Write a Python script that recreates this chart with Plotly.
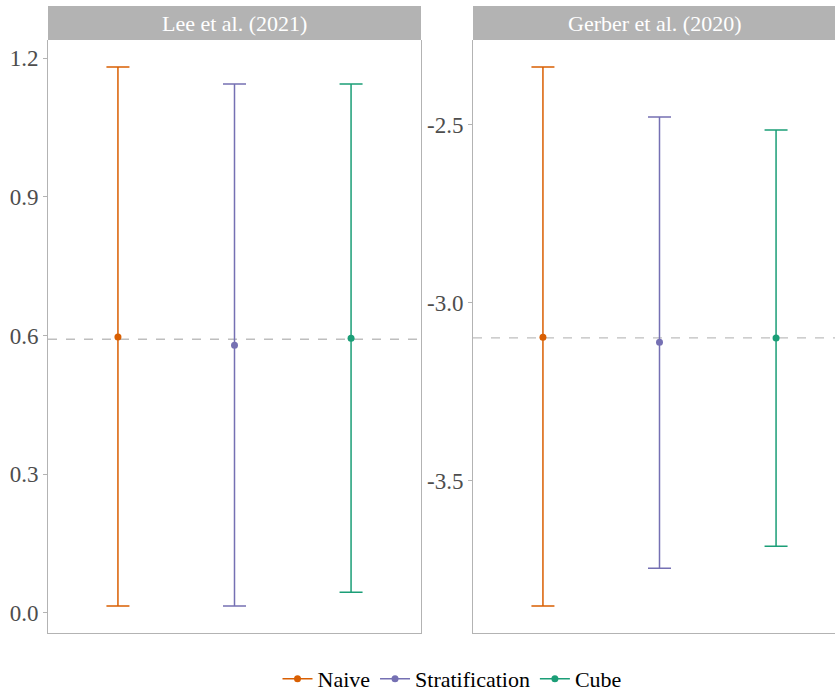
import plotly.graph_objects as go

# ---- data ----
studies = ["Lee et al. (2021)", "Gerber et al. (2020)"]
methods = ["Naive", "Stratification", "Cube"]
colors = ["#D95F02", "#7570B3", "#1B9E77"]

est_lee = [0.597, 0.579, 0.594]
lo_lee = [0.015, 0.015, 0.045]
hi_lee = [1.181, 1.144, 1.144]
ref_lee = 0.592

est_gerber = [-3.097, -3.111, -3.099]
lo_gerber = [-3.853, -3.747, -3.685]
hi_gerber = [-2.337, -2.478, -2.514]
ref_gerber = -3.099

ticks_lee = [0.0, 0.3, 0.6, 0.9, 1.2]
ticklabels_lee = ["0.0", "0.3", "0.6", "0.9", "1.2"]
ticks_gerber = [-3.5, -3.0, -2.5]
ticklabels_gerber = ["-3.5", "-3.0", "-2.5"]

# ---- layout geometry (pixels) ----
W, H = 835, 694
ML, MR, MT, MB = 48, 0, 40, 61
PW = W - ML - MR
PH = H - MT - MB
p1 = (0, (421 - ML) / PW)
p2 = ((473 - ML) / PW, 1.0)
STRIP = 34 / PH

FONT = "Liberation Serif"
GRID = "#B3B3B3"

fig = go.Figure()

panels = [
    (est_lee, lo_lee, hi_lee, "x", "y", True),
    (est_gerber, lo_gerber, hi_gerber, "x2", "y2", False),
]
for est, lo, hi, xa, ya, show in panels:
    for i, m in enumerate(methods):
        fig.add_trace(go.Scatter(
            x=[m], y=[est[i]],
            mode="lines+markers",
            name=m, legendgroup=m, showlegend=show,
            marker=dict(color=colors[i], size=7),
            line=dict(color=colors[i], width=1.5),
            error_y=dict(type="data", symmetric=False,
                         array=[hi[i] - est[i]], arrayminus=[est[i] - lo[i]],
                         color=colors[i], thickness=1.5, width=11.5),
            xaxis=xa, yaxis=ya,
        ))

def yrange(lo, hi):
    a, b = min(lo), max(hi)
    e = (b - a) * 0.05
    return [a - e, b + e]

axis_common = dict(showgrid=False, zeroline=False, linecolor=GRID, linewidth=1,
                   automargin=False)

fig.update_layout(
    width=W, height=H,
    margin=dict(l=ML, r=MR, t=MT, b=MB, pad=0, autoexpand=False),
    plot_bgcolor="white", paper_bgcolor="white",
    font=dict(family=FONT, size=18, color="#4D4D4D"),
    xaxis=dict(domain=list(p1), range=[0.4 - 1, 3.6 - 1], showticklabels=False,
               ticks="", showline=True, mirror=False, categoryorder="array",
               categoryarray=methods, type="category", **axis_common),
    xaxis2=dict(domain=list(p2), range=[0.4 - 1, 3.6 - 1 - 11 / 116.6],
                showticklabels=False, ticks="", showline=True, mirror=False,
                type="category", categoryorder="array", categoryarray=methods,
                anchor="y2", **axis_common),
    yaxis=dict(range=yrange(lo_lee, hi_lee), tickvals=ticks_lee, ticktext=ticklabels_lee,
               ticks="outside", ticklen=4, tickcolor=GRID, showline=True, mirror=True,
               tickfont=dict(family=FONT, size=23, color="#4D4D4D"), **axis_common),
    yaxis2=dict(range=yrange(lo_gerber, hi_gerber), tickvals=ticks_gerber,
                ticktext=ticklabels_gerber, ticks="outside", ticklen=4, tickcolor=GRID,
                showline=True, mirror=False, anchor="x2",
                tickfont=dict(family=FONT, size=23, color="#4D4D4D"), **axis_common),
    legend=dict(orientation="h", x=(452 - ML) / PW, xanchor="center",
                y=-(679 - 633) / PH, yanchor="middle",
                font=dict(family=FONT, size=22, color="black"),
                itemwidth=30, tracegroupgap=0),
    showlegend=True,
)

# reference lines
for ref, xa, ya in [(ref_lee, "x", "y"), (ref_gerber, "x2", "y2")]:
    fig.add_shape(type="line", xref=f"{xa} domain", yref=ya, x0=0, x1=1, y0=ref, y1=ref,
                  line=dict(color="#BEBEBE", width=1.3, dash="dash"), layer="below")

# strips
for (d0, d1), title in zip([p1, p2], studies):
    fig.add_shape(type="rect", xref="paper", yref="paper", x0=d0, x1=d1,
                  y0=1, y1=1 + STRIP, fillcolor="#B3B3B3", line=dict(width=0))
    fig.add_annotation(xref="paper", yref="paper", x=(d0 + d1) / 2, y=1 + STRIP / 2,
                       text=title, showarrow=False, xanchor="center", yanchor="middle",
                       font=dict(family=FONT, size=22, color="white"))

fig.write_html("out.html", config={"displayModeBar": False},
               post_script="document.body.style.margin='0px';document.body.style.overflow='hidden';")
